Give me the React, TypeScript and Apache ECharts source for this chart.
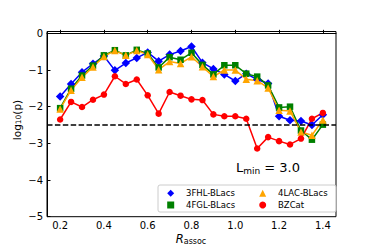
import React, { useEffect, useRef } from "react";
import * as echarts from "echarts";

const rAssoc = [0.2, 0.25, 0.3, 0.35, 0.4, 0.45, 0.5, 0.55, 0.6, 0.65, 0.7, 0.75, 0.8, 0.85, 0.9, 0.95, 1.0, 1.05, 1.1, 1.15, 1.2, 1.25, 1.3, 1.35, 1.4];

const fhl3 = [-1.72, -1.38, -1.06, -0.83, -0.62, -1.01, -0.81, -0.67, -0.52, -0.76, -0.58, -0.48, -0.36, -0.8, -0.97, -1.12, -1.3, -1.1, -1.26, -1.37, -2.26, -2.37, -2.39, -2.5, -2.22];
const fgl4 = [-2.04, -1.51, -1.15, -0.88, -0.6, -0.46, -0.6, -0.45, -0.55, -0.93, -0.65, -0.72, -0.53, -0.86, -1.12, -0.87, -0.87, -1.1, -1.18, -1.42, -2.02, -2.0, -2.65, -2.9, -2.49];
const lac4 = [-2.06, -1.55, -1.2, -0.92, -0.63, -0.47, -0.6, -0.47, -0.58, -0.99, -0.77, -0.82, -0.64, -0.91, -1.18, -1.0, -1.0, -1.25, -1.29, -1.49, -2.1, -2.12, -2.69, -2.78, -2.36];
const bzcat = [-2.35, -1.87, -2.01, -1.81, -1.67, -1.17, -1.38, -1.26, -1.69, -2.19, -1.6, -1.7, -1.8, -1.82, -2.21, -2.26, -2.26, -2.33, -3.14, -2.83, -2.94, -3.03, -2.87, -2.33, -2.17];

const xTicks = [0.2, 0.4, 0.6, 0.8, 1.0, 1.2, 1.4];
const yTicks = [-5, -4, -3, -2, -1, 0];
const threshold = -2.5;
const lminText = "3.0";

const FONT = "DejaVu Sans";

export default function App() {
  const ref = useRef<HTMLDivElement>(null);
  useEffect(() => {
    document.body.style.margin = "0";
    const chart = echarts.init(ref.current!, null, { renderer: "svg" });
    const mk = (ys: number[]) => rAssoc.map((x, i) => [x, ys[i]]);
    const seriesBase = (name: string, ys: number[], color: string, symbol: string, size: number) => ({
      name,
      type: "line",
      data: mk(ys),
      symbol,
      symbolSize: size,
      showSymbol: true,
      color,
      itemStyle: { color },
      lineStyle: { color, width: 1.5 },
      emphasis: { disabled: true },
    });
    const legendCommon = {
      orient: "vertical",
      top: 188.3,
      padding: 0,
      itemWidth: 7,
      itemHeight: 7,
      itemGap: 1.7,
      selectedMode: false,
      z: 6,
      textStyle: { fontFamily: FONT, fontSize: 8.5, lineHeight: 10, color: "#000", padding: [0, 0, 0, 6.8] },
    };
    chart.setOption({
      animation: false,
      grid: {
        left: 47,
        right: 38,
        top: 31.5,
        bottom: 32.3,
        show: true,
        borderColor: "#000",
        borderWidth: 1,
        backgroundColor: "transparent",
      },
      xAxis: {
        type: "value",
        min: 0.14,
        max: 1.46,
        axisLine: { show: true, lineStyle: { color: "#000", width: 1 } },
        axisTick: { show: true, inside: true, length: 3.5, customValues: xTicks, lineStyle: { color: "#000" } },
        axisLabel: {
          show: true,
          customValues: xTicks,
          formatter: (v: number) => v.toFixed(1),
          fontFamily: FONT,
          fontSize: 10,
          color: "#000",
          margin: 4,
        },
        splitLine: { show: false },
      },
      yAxis: {
        type: "value",
        min: -5,
        max: 0.05,
        axisLine: { show: true, lineStyle: { color: "#000", width: 1 } },
        axisTick: { show: true, inside: true, length: 3.5, customValues: yTicks, lineStyle: { color: "#000" } },
        axisLabel: {
          show: true,
          customValues: yTicks,
          formatter: (v: number) => (v < 0 ? "\u2212" + Math.abs(v) : String(v)),
          fontFamily: FONT,
          fontSize: 10,
          color: "#000",
          margin: 4,
        },
        splitLine: { show: false },
      },
      legend: [
        {
          ...legendCommon,
          left: 167.2,
          data: [
            { name: "3FHL-BLacs", icon: "diamond" },
            { name: "4FGL-BLacs", icon: "rect" },
          ],
        },
        {
          ...legendCommon,
          left: 259.2,
          data: [
            { name: "4LAC-BLacs", icon: "triangle" },
            { name: "BZCat", icon: "circle" },
          ],
        },
      ],
      graphic: [
        {
          type: "rect",
          z: 5,
          shape: { x: 158, y: 185, width: 178, height: 27, r: 2 },
          style: { fill: "rgba(255,255,255,0.8)", stroke: "#cccccc", lineWidth: 1 },
        },
        {
          type: "text",
          z: 5,
          x: 268,
          y: 167.5,
          style: {
            text: "L{sub|min} = " + lminText,
            fontFamily: FONT,
            fontSize: 13,
            lineHeight: 15,
            fill: "#000",
            align: "center",
            verticalAlign: "middle",
            rich: {
              sub: { fontFamily: FONT, fontSize: 9, lineHeight: 4, verticalAlign: "bottom", fill: "#000" },
            },
          },
        },
        {
          type: "text",
          z: 5,
          x: 16.7,
          y: 120,
          rotation: Math.PI / 2,
          style: {
            text: "log{sub|10}(p)",
            fontFamily: FONT,
            fontSize: 10.5,
            lineHeight: 12,
            fill: "#000",
            align: "center",
            verticalAlign: "middle",
            rich: {
              sub: { fontFamily: FONT, fontSize: 7.5, lineHeight: 3, verticalAlign: "bottom", fill: "#000" },
            },
          },
        },
        {
          type: "text",
          z: 5,
          x: 191,
          y: 238.5,
          style: {
            text: "{r|R}{sub|assoc}",
            fontFamily: FONT,
            fontSize: 11,
            lineHeight: 13,
            fill: "#000",
            align: "center",
            verticalAlign: "middle",
            rich: {
              r: { fontFamily: FONT, fontSize: 11.5, fontStyle: "italic", lineHeight: 13, fill: "#000" },
              sub: { fontFamily: FONT, fontSize: 8, lineHeight: 4, verticalAlign: "bottom", fill: "#000" },
            },
          },
        },
      ],
      series: [
        {
          ...seriesBase("3FHL-BLacs", fhl3, "#0000ff", "diamond", 8.5),
          markLine: {
            silent: true,
            symbol: ["none", "none"],
            label: { show: false },
            lineStyle: { color: "#000", width: 1.5, type: [5.5, 2.4] },
            data: [{ yAxis: threshold }],
          },
        },
        seriesBase("4FGL-BLacs", fgl4, "#008000", "rect", 6.5),
        seriesBase("4LAC-BLacs", lac4, "#ffa500", "triangle", 7.5),
        seriesBase("BZCat", bzcat, "#ff0000", "circle", 6.5),
      ],
    });
    return () => chart.dispose();
  }, []);
  return <div ref={ref} style={{ width: 374, height: 249 }} />;
}
